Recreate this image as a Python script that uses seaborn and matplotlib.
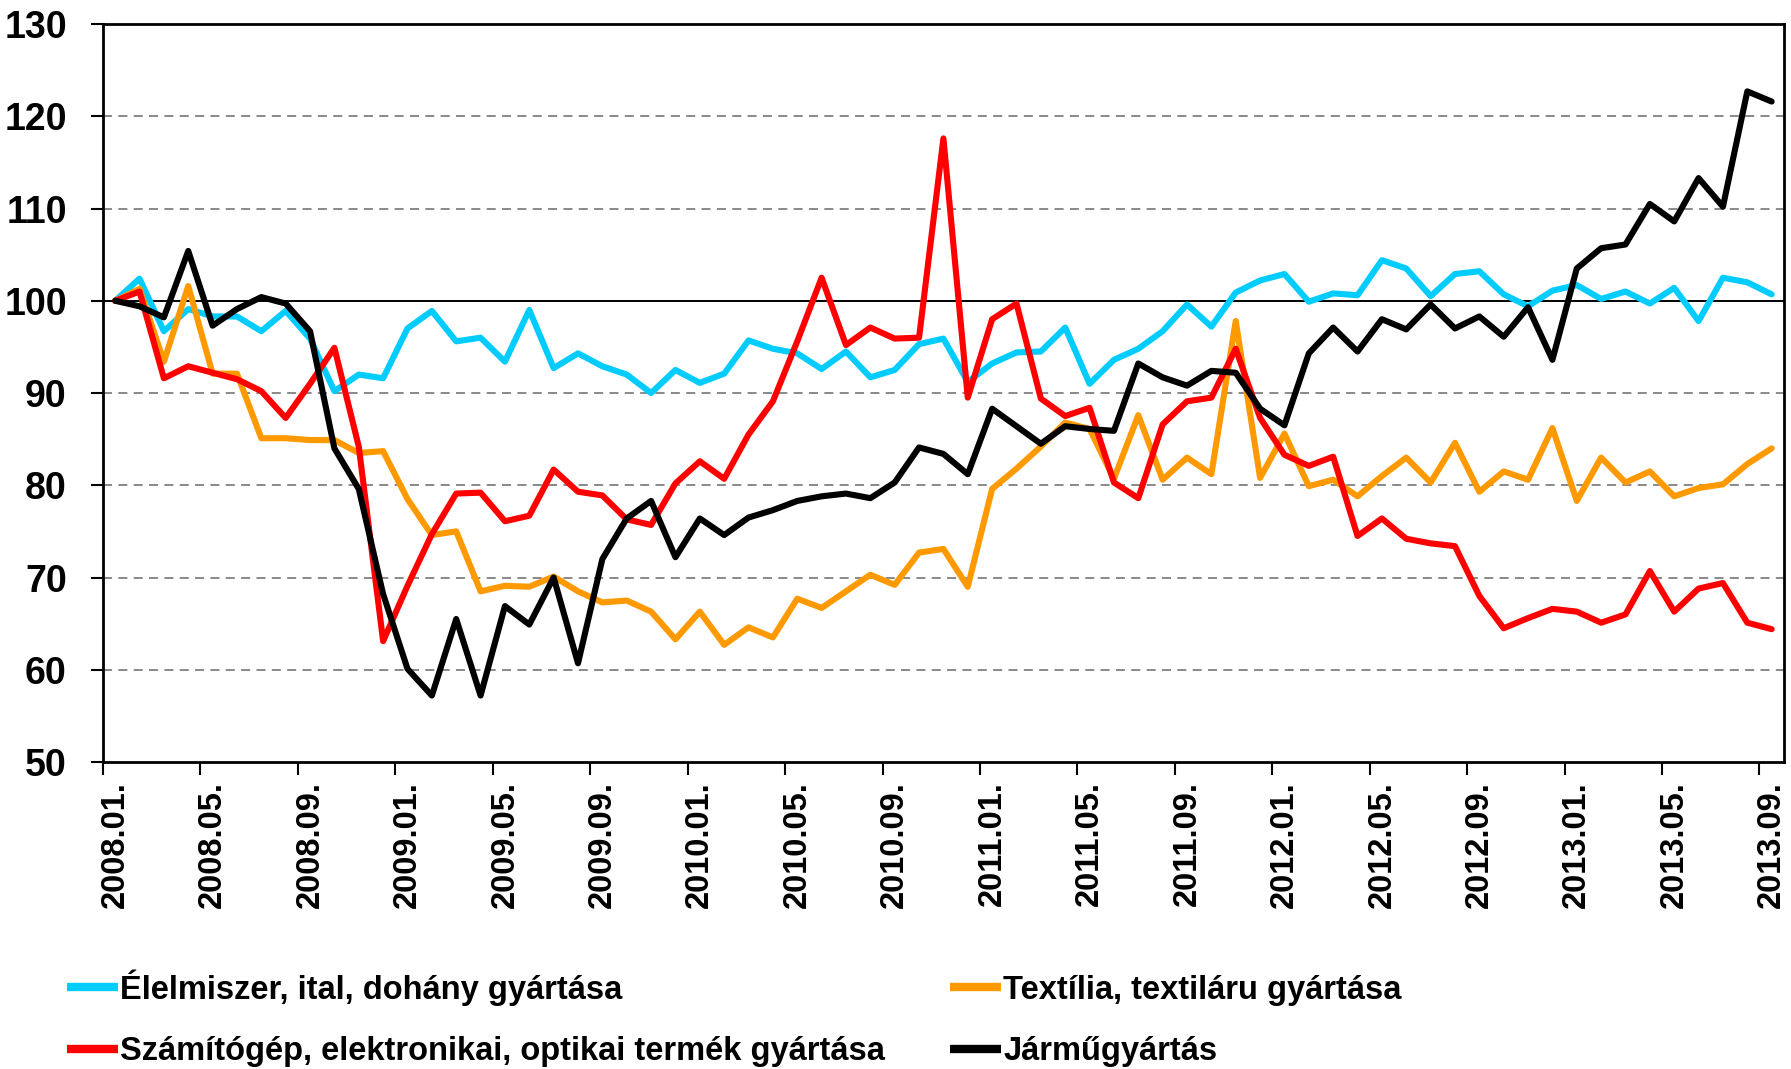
import numpy as np
import pandas as pd
import matplotlib as mpl
mpl.use("Agg")
import matplotlib.pyplot as plt
import seaborn as sns

# ---- data: monthly index, 2008.01 = 100 ------------------------------------
months = [f"{d.year}.{d.month:02d}." for d in pd.date_range("2008-01-01", "2013-09-01", freq="MS")]

elelmiszer = [
    100.0, 102.4, 96.7, 99.1, 98.3, 98.3, 96.7, 98.9, 95.9, 90.2, 92.0, 91.6,
    97.0, 98.9, 95.6, 96.0, 93.4, 99.0, 92.7, 94.3, 92.9, 92.0, 90.0, 92.5,
    91.1, 92.1, 95.7, 94.8, 94.3, 92.6, 94.5, 91.7, 92.5, 95.3, 95.9, 91.2,
    93.2, 94.4, 94.5, 97.1, 91.0, 93.6, 94.8, 96.7, 99.6, 97.2, 100.9, 102.2,
    102.9, 99.9, 100.8, 100.6, 104.4, 103.5, 100.5, 102.9, 103.2, 100.7, 99.4, 101.1,
    101.7, 100.2, 101.0, 99.7, 101.4, 97.8, 102.5, 102.0, 100.7,
]
textilia = [
    100.0, 101.3, 93.4, 101.6, 92.1, 92.1, 85.1, 85.1, 84.9, 84.9, 83.5, 83.7,
    78.5, 74.6, 75.0, 68.5, 69.1, 69.0, 70.1, 68.5, 67.3, 67.5, 66.3, 63.3,
    66.3, 62.7, 64.6, 63.5, 67.7, 66.7, 68.5, 70.3, 69.2, 72.7, 73.1, 69.0,
    79.6, 81.8, 84.2, 86.8, 86.1, 80.7, 87.6, 80.6, 83.0, 81.2, 97.8, 80.8,
    85.6, 79.9, 80.6, 78.8, 81.0, 83.0, 80.3, 84.6, 79.3, 81.5, 80.6, 86.2,
    78.3, 83.0, 80.3, 81.5, 78.8, 79.7, 80.1, 82.3, 84.0,
]
szamitogep = [
    100.0, 101.0, 91.6, 92.9, 92.2, 91.5, 90.2, 87.3, 91.0, 94.9, 84.2, 63.1,
    69.1, 74.7, 79.1, 79.2, 76.1, 76.7, 81.7, 79.3, 78.9, 76.3, 75.7, 80.2,
    82.6, 80.7, 85.5, 89.1, 95.6, 102.5, 95.2, 97.1, 95.9, 96.0, 117.6, 89.5,
    98.0, 99.7, 89.4, 87.5, 88.4, 80.3, 78.6, 86.6, 89.1, 89.5, 94.8, 87.3,
    83.3, 82.1, 83.1, 74.5, 76.4, 74.2, 73.7, 73.4, 68.0, 64.5, 65.6, 66.6,
    66.3, 65.1, 66.0, 70.7, 66.3, 68.8, 69.4, 65.1, 64.4,
]
jarmu = [
    100.0, 99.4, 98.2, 105.4, 97.3, 99.1, 100.4, 99.7, 96.7, 84.0, 79.6, 68.2,
    60.1, 57.2, 65.5, 57.2, 66.9, 64.9, 70.0, 60.7, 72.0, 76.4, 78.3, 72.2,
    76.4, 74.6, 76.5, 77.3, 78.3, 78.8, 79.1, 78.6, 80.3, 84.1, 83.4, 81.2,
    88.3, 86.4, 84.5, 86.4, 86.1, 85.9, 93.2, 91.7, 90.8, 92.4, 92.2, 88.3,
    86.5, 94.3, 97.1, 94.5, 98.0, 96.9, 99.6, 97.0, 98.3, 96.1, 99.3, 93.6,
    103.5, 105.7, 106.1, 110.5, 108.6, 113.3, 110.2, 122.7, 121.6,
]

series_names = [
    "Élelmiszer, ital, dohány gyártása",
    "Textília, textiláru gyártása",
    "Számítógép, elektronikai, optikai termék gyártása",
    "Járműgyártás",
]
series_values = [elelmiszer, textilia, szamitogep, jarmu]
series_colors = ["#00CCFF", "#FF9900", "#FF0000", "#000000"]

y_ticks = [50, 60, 70, 80, 90, 100, 110, 120, 130]
y_grid = [60, 70, 80, 90, 110, 120]

# ---- styling ----------------------------------------------------------------
sns.set_style("white")
plt.rcParams["font.family"] = ["Liberation Sans", "DejaVu Sans"]
plt.rcParams["text.color"] = "black"
plt.rcParams["xtick.color"] = "black"
plt.rcParams["ytick.color"] = "black"

fig = plt.figure(figsize=(17.91, 10.69), dpi=100)
ax = fig.add_axes([0.0575, 0.2872, 0.996 - 0.0575, 0.9775 - 0.2872])

x = np.arange(len(months))
for name, vals, col in zip(series_names, series_values, series_colors):
    sns.lineplot(x=x, y=vals, ax=ax, color=col, linewidth=4.4, label=name,
                 sort=False, solid_capstyle="round", solid_joinstyle="round",
                 zorder=3)

# gridlines
for g in y_grid:
    ax.axhline(g, color="#808080", linewidth=1.3, linestyle=(0, (5, 3.5)), zorder=1)
ax.axhline(100, color="black", linewidth=1.4, zorder=2)

ax.set_xlim(-0.5, len(months) - 0.5)
ax.set_ylim(50, 130)

ax.set_yticks(y_ticks)
ax.set_yticklabels([str(t) for t in y_ticks], fontweight="bold", fontsize=27)
ax.tick_params(axis="y", direction="out", length=9, width=1.5, pad=17, left=True)

# labels centred on the data points, tick marks on category boundaries
label_pos = x[::4]
ax.set_xticks(label_pos)
ax.set_xticklabels([months[i] for i in label_pos], rotation=90, fontweight="bold",
                   fontsize=23.5)
ax.tick_params(axis="x", which="major", length=0, pad=14)
ax.set_xticks(np.arange(-0.5, len(months), 4), minor=True)
ax.tick_params(axis="x", which="minor", direction="out", length=9, width=1.5, bottom=True)

for sp in ax.spines.values():
    sp.set_visible(True)
    sp.set_color("black")
    sp.set_linewidth(2)
ax.set_xlabel("")
ax.set_ylabel("")

# legend: two rows, two columns
handles, labels = ax.get_legend_handles_labels()
ax.legend_.remove()
order = [0, 2, 1, 3]
leg = fig.legend([handles[i] for i in order], [labels[i] for i in order],
                 ncol=2, loc="lower left", bbox_to_anchor=(0.0208, -0.026),
                 frameon=False, handlelength=1.57, handletextpad=0.06,
                 columnspacing=2.0, labelspacing=0.94,
                 prop={"weight": "bold", "size": 23.5})
for h in leg.legend_handles:
    h.set_linewidth(6)
    h.set_solid_capstyle("butt")

fig.savefig("out.png", dpi=100)
